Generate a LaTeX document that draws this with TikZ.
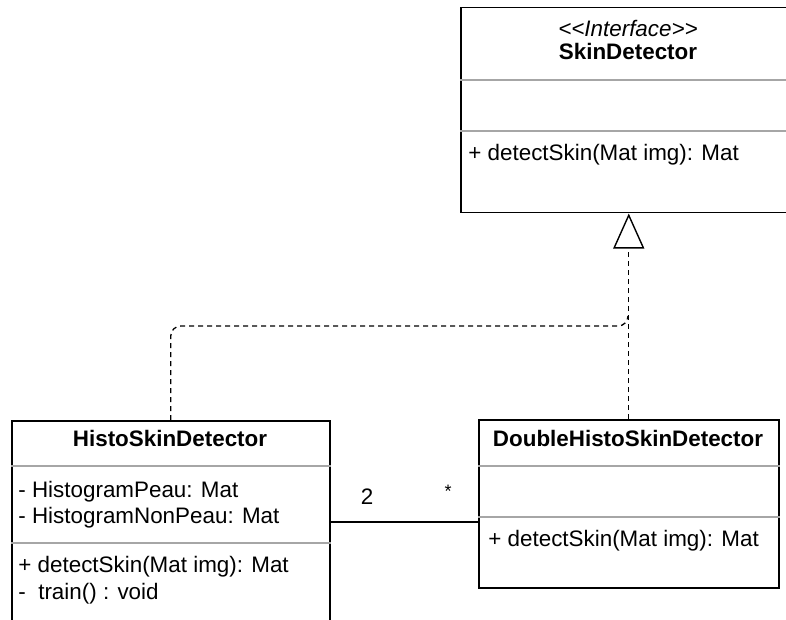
\documentclass[tikz,border=0pt]{standalone}
\usepackage{fontspec}
\setmainfont{Liberation Sans}
\usetikzlibrary{arrows.meta}
\begin{document}
\begin{tikzpicture}[x=0.5pt,y=-0.5pt,
  classbox/.style={draw=black,line width=0.75pt,inner sep=0pt,anchor=north west},
  sepline/.style={draw=black!35,line width=0.6pt},
  txt/.style={inner sep=0pt,font=\fontsize{11.2}{13.5}\selectfont},
  realize/.style={line width=0.65pt,dash pattern=on 2.5pt off 2pt},
  assoc/.style={line width=0.7pt}
]
\clip (0,0) rectangle (786,620);
\fill[white] (0,0) rectangle (786,620);

% class boxes
\node[classbox,minimum width=168pt,minimum height=102.5pt] (iface) at (460,7) {};
\node[classbox,minimum width=159pt,minimum height=112pt] (histo) at (11,420) {};
\node[classbox,minimum width=150pt,minimum height=84pt] (dbl) at (478,419) {};

% compartment separators
\draw[sepline] (iface.west |- 0,80) -- (iface.east |- 0,80);
\draw[sepline] (iface.west |- 0,131) -- (iface.east |- 0,131);
\draw[sepline] (histo.west |- 0,466) -- (histo.east |- 0,466);
\draw[sepline] (histo.west |- 0,543) -- (histo.east |- 0,543);
\draw[sepline] (dbl.west |- 0,466) -- (dbl.east |- 0,466);
\draw[sepline] (dbl.west |- 0,517) -- (dbl.east |- 0,517);

% interface texts
\node[txt,anchor=base] (ifst) at (628,37) {\itshape {<}{<}Interface{>}{>}};
\node[txt,anchor=base] (ifname) at (628,60) {\bfseries SkinDetector};
\node[txt,anchor=base west] (ifop) at (468,161) {+ detectSkin(Mat img): Mat};

% HistoSkinDetector texts
\node[txt,anchor=base] (hname) at (170,446) {\bfseries HistoSkinDetector};
\node[txt,anchor=base west] (hat1) at (18,497) {- HistogramPeau: Mat};
\node[txt,anchor=base west] (hat2) at (18,523) {- HistogramNonPeau: Mat};
\node[txt,anchor=base west] (hop1) at (18,572) {+ detectSkin(Mat img): Mat};
\node[txt,anchor=base west] (hop2) at (18,599) {-\ \ train() : void};

% DoubleHistoSkinDetector texts
\node[txt,anchor=base] (dname) at (628,446) {\bfseries DoubleHistoSkinDetector};
\node[txt,anchor=base west] (dop) at (488,546) {+ detectSkin(Mat img): Mat};

% realization connectors
\coordinate (join) at (628,316);
\draw[realize,-{Triangle[open,length=17.5pt,width=15.5pt,line width=0.7pt]}] (dbl.north) -- (iface.south);
\draw[realize,rounded corners=5pt] (histo.north) |- (628,326) -- (join);

% association with multiplicities
\coordinate (aL) at (histo.east |- 0,522);
\coordinate (aR) at (dbl.west |- 0,522);
\draw[assoc] (aL) -- (aR);
\node[txt,anchor=base] (m2) at (367,504) {2};
\node[txt,anchor=center,font=\fontsize{9}{10}\selectfont] (mstar) at (448,491) {*};
\end{tikzpicture}
\end{document}
